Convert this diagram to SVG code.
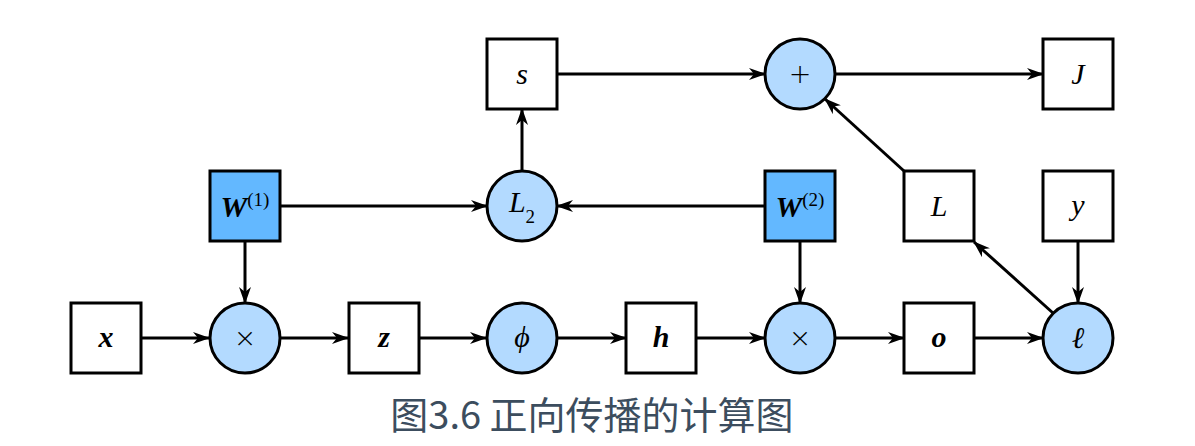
<svg xmlns="http://www.w3.org/2000/svg" width="1195" height="446" viewBox="0 0 1195 446">
<style>
.box{fill:#ffffff;stroke:#000;stroke-width:3}
.wbox{fill:#63b8ff;stroke:#000;stroke-width:3}
.op{fill:#b3daff;stroke:#000;stroke-width:3}
.lbl{font-family:"Liberation Serif",serif;font-style:italic;font-size:30px;text-anchor:middle;fill:#000}
.b{font-weight:bold}
.sym{font-family:"DejaVu Sans","Liberation Sans",sans-serif;font-size:27px;font-weight:300;text-anchor:middle;fill:#000}
.up{font-style:normal;font-weight:normal;font-size:19px}
.cap{font-family:"Noto Sans CJK SC","Noto Sans",sans-serif;font-size:38px;fill:#3c4d5e;text-anchor:middle}
.edge{stroke:#000;stroke-width:3;fill:none;marker-end:url(#ah)}
</style>
<defs>
<marker id="ah" markerWidth="17" markerHeight="12" refX="16" refY="6" orient="auto" markerUnits="userSpaceOnUse">
<path d="M0,0 L17,6 L0,12 L5,6 z" fill="#000"/>
</marker>
</defs>
<rect width="1195" height="446" fill="#fff"/>
<g id="connectors">
<line class="edge" x1="141" y1="338" x2="209" y2="338"/>
<line class="edge" x1="280" y1="338" x2="348" y2="338"/>
<line class="edge" x1="419" y1="338" x2="486" y2="338"/>
<line class="edge" x1="557" y1="338" x2="626" y2="338"/>
<line class="edge" x1="696" y1="338" x2="765" y2="338"/>
<line class="edge" x1="835" y1="338" x2="904" y2="338"/>
<line class="edge" x1="974" y1="338" x2="1043" y2="338"/>
<line class="edge" x1="245" y1="242" x2="245" y2="303"/>
<line class="edge" x1="800" y1="242" x2="800" y2="303"/>
<line class="edge" x1="1078" y1="242" x2="1078" y2="303"/>
<line class="edge" x1="280" y1="206" x2="487" y2="206"/>
<line class="edge" x1="765" y1="206" x2="557" y2="206"/>
<line class="edge" x1="522" y1="171" x2="522" y2="109"/>
<line class="edge" x1="557" y1="74" x2="765" y2="74"/>
<line class="edge" x1="835" y1="74" x2="1043" y2="74"/>
<line class="edge" x1="1053" y1="313" x2="974" y2="242"/>
<line class="edge" x1="904" y1="171" x2="825" y2="99"/>
</g>
<g id="node-x"><rect class="box" x="71" y="303" width="70" height="70"/><text class="lbl b" x="106" y="347">x</text></g>
<g id="node-mul1"><circle class="op" cx="245" cy="338" r="35"/><text class="sym" x="245" y="347">×</text></g>
<g id="node-z"><rect class="box" x="349" y="303" width="70" height="70"/><text class="lbl b" x="384" y="347">z</text></g>
<g id="node-phi"><circle class="op" cx="522" cy="338" r="35"/><text class="lbl" x="522" y="347">ϕ</text></g>
<g id="node-h"><rect class="box" x="626" y="303" width="70" height="70"/><text class="lbl b" x="661" y="347">h</text></g>
<g id="node-mul2"><circle class="op" cx="800" cy="338" r="35"/><text class="sym" x="800" y="347">×</text></g>
<g id="node-o"><rect class="box" x="904" y="303" width="70" height="70"/><text class="lbl b" x="939" y="347">o</text></g>
<g id="node-ell"><circle class="op" cx="1078" cy="338" r="35"/><text class="lbl" x="1078" y="348" font-size="32">ℓ</text></g>
<g id="node-W1"><rect class="wbox" x="210" y="171" width="70" height="70"/><text class="lbl b" x="245" y="217"><tspan>W</tspan><tspan class="up" dy="-11">(1)</tspan></text></g>
<g id="node-L2"><circle class="op" cx="522" cy="206" r="35"/><text class="lbl" x="522" y="212"><tspan>L</tspan><tspan class="up" dy="11" font-size="25">2</tspan></text></g>
<g id="node-W2"><rect class="wbox" x="765" y="171" width="70" height="70"/><text class="lbl b" x="800" y="217"><tspan>W</tspan><tspan class="up" dy="-11">(2)</tspan></text></g>
<g id="node-L"><rect class="box" x="904" y="171" width="70" height="70"/><text class="lbl" x="939" y="216">L</text></g>
<g id="node-y"><rect class="box" x="1043" y="171" width="70" height="70"/><text class="lbl" x="1078" y="215">y</text></g>
<g id="node-s"><rect class="box" x="487" y="39" width="70" height="70"/><text class="lbl" x="522" y="84">s</text></g>
<g id="node-plus"><circle class="op" cx="800" cy="74" r="35"/><text class="sym" x="800" y="83">+</text></g>
<g id="node-J"><rect class="box" x="1043" y="39" width="70" height="70"/><text class="lbl" x="1078" y="84">J</text></g>
<text class="cap" x="592" y="429">图3.6 正向传播的计算图</text>
</svg>
